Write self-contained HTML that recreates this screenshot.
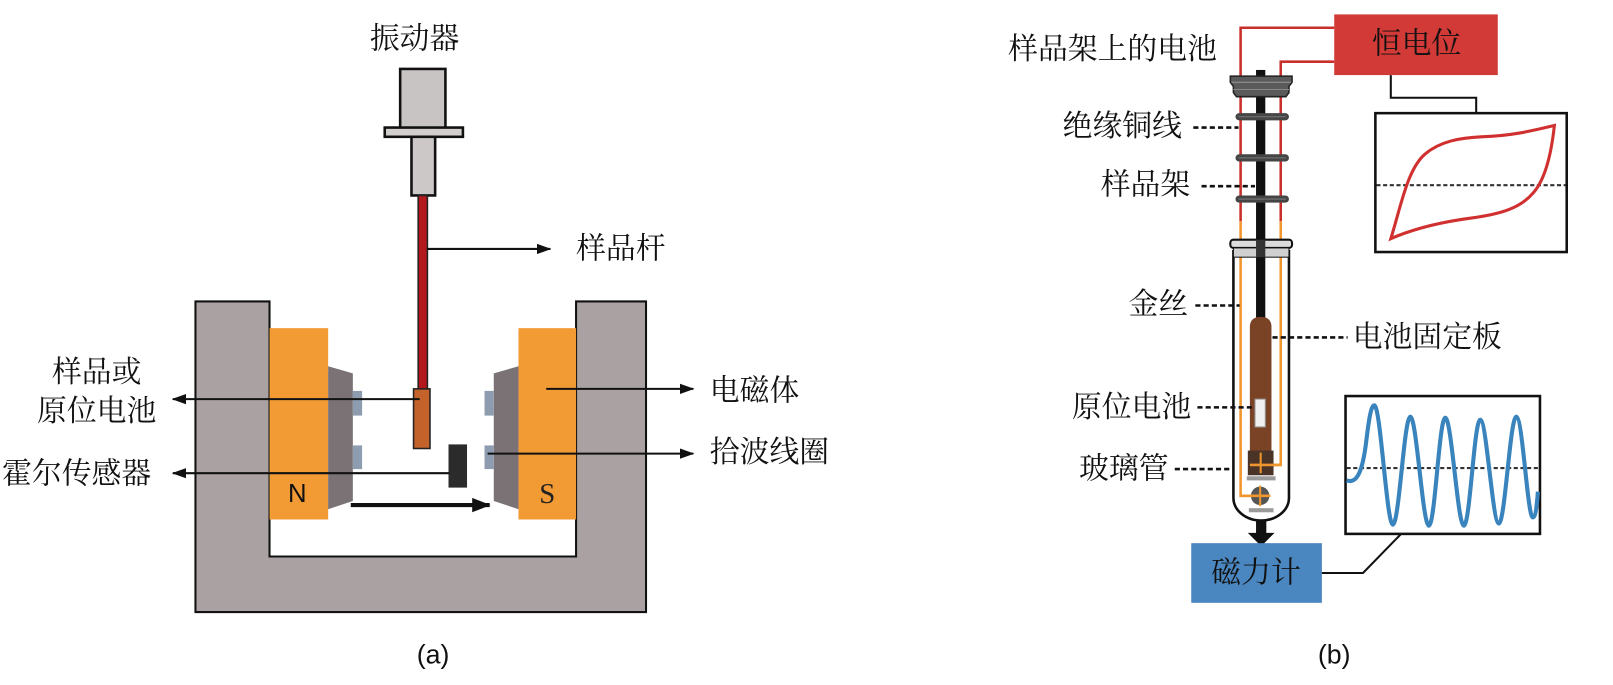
<!DOCTYPE html>
<html><head><meta charset="utf-8"><style>
html,body{margin:0;padding:0;background:#fff;}
svg{display:block;}
.cj{font-family:"Liberation Serif","Noto Serif CJK SC",serif;font-size:29px;fill:#111;}
.lt{font-family:"Liberation Sans",sans-serif;fill:#111;}
</style></head><body>
<svg width="1613" height="685" viewBox="0 0 1613 685" xmlns="http://www.w3.org/2000/svg">
<defs>
<marker id="ah" markerWidth="14" markerHeight="10" refX="13" refY="5" orient="auto" markerUnits="userSpaceOnUse">
<path d="M0,0 L14,5 L0,10 Z" fill="#111"/></marker>
<marker id="ah2" markerWidth="18" markerHeight="14" refX="17" refY="7" orient="auto" markerUnits="userSpaceOnUse">
<path d="M0,0 L18,7 L0,14 Z" fill="#111"/></marker>
</defs>
<rect width="1613" height="685" fill="#fff"/>
<g transform="scale(1.0287)">

<!-- ===== Panel (a) ===== -->
<text class="cj" x="403" y="38" text-anchor="middle" dominant-baseline="central">振动器</text>
<rect x="389" y="67" width="44" height="58" fill="#c9c4c4" stroke="#111" stroke-width="2.5"/>
<rect x="374" y="124" width="76" height="9" fill="#d2cece" stroke="#111" stroke-width="2.5"/>
<rect x="400" y="133" width="23" height="57" fill="#cdc8c8" stroke="#111" stroke-width="2.5"/>
<rect x="406.5" y="190" width="9" height="190" fill="#b3191c" stroke="#222" stroke-width="1.5"/>
<line x1="415" y1="242" x2="535" y2="242" stroke="#111" stroke-width="2" marker-end="url(#ah)"/>
<text class="cj" x="560" y="242" dominant-baseline="central">样品杆</text>

<path d="M190,293 H262 V541 H560 V293 H628 V595 H190 Z" fill="#aaa2a2" stroke="#111" stroke-width="2"/>
<rect x="262" y="319" width="57" height="186" fill="#f29a33"/>
<rect x="504" y="319" width="56" height="186" fill="#f29a33"/>
<polygon points="319,356 343,363 343,487 319,495" fill="#7a7274"/>
<polygon points="504,356 480,363 480,487 504,495" fill="#7a7274"/>
<rect x="343" y="380" width="9" height="24" fill="#8e9cb0"/>
<rect x="343" y="433" width="9" height="23" fill="#8e9cb0"/>
<rect x="471" y="380" width="9" height="24" fill="#8e9cb0"/>
<rect x="471" y="433" width="9" height="23" fill="#8e9cb0"/>
<rect x="402" y="378" width="16" height="58" fill="#c3622b" stroke="#222" stroke-width="1.5"/>
<rect x="436" y="432" width="18" height="42" fill="#2b2b2b"/>
<text class="lt" x="289" y="480" font-size="25" text-anchor="middle" dominant-baseline="central">N</text>
<text x="532" y="480" font-family="Liberation Serif, serif" font-size="28" fill="#222" text-anchor="middle" dominant-baseline="central">S</text>
<line x1="408" y1="388" x2="168" y2="388" stroke="#111" stroke-width="2" marker-end="url(#ah)"/>
<line x1="437" y1="460" x2="168" y2="460" stroke="#111" stroke-width="2" marker-end="url(#ah)"/>
<line x1="531" y1="378" x2="674" y2="378" stroke="#111" stroke-width="2" marker-end="url(#ah)"/>
<line x1="474" y1="441" x2="674" y2="441" stroke="#111" stroke-width="2" marker-end="url(#ah)"/>
<line x1="341" y1="491" x2="476" y2="491" stroke="#111" stroke-width="4" marker-end="url(#ah2)"/>
<text class="cj" x="94" y="362" text-anchor="middle" dominant-baseline="central">样品或</text>
<text class="cj" x="94" y="400" text-anchor="middle" dominant-baseline="central">原位电池</text>
<text class="cj" x="2" y="461" dominant-baseline="central">霍尔传感器</text>
<text class="cj" x="690" y="380" dominant-baseline="central">电磁体</text>
<text class="cj" x="690" y="440" dominant-baseline="central">拾波线圈</text>
<text class="lt" x="421" y="636" font-size="26" text-anchor="middle" dominant-baseline="central">(a)</text>

<!-- ===== Panel (b) ===== -->
<text class="cj" x="980" y="48" dominant-baseline="central">样品架上的电池</text>
<rect x="1297" y="14" width="159" height="59" fill="#d13a36"/>
<text class="cj" x="1377" y="43" text-anchor="middle" dominant-baseline="central" fill="#1a1a1a">恒电位</text>
<path d="M1297,27 H1206 V215" fill="none" stroke="#c9302c" stroke-width="2.5"/>
<path d="M1297,60 H1245 V215" fill="none" stroke="#c9302c" stroke-width="2.5"/>
<path d="M1199,243 V484 A27,22 0 0 0 1253,484 V243" fill="#fff" stroke="#111" stroke-width="2.5"/>
<path d="M1206,215 V482 H1225" fill="none" stroke="#f0962e" stroke-width="2.5"/>
<path d="M1245,215 V452 H1225" fill="none" stroke="#f0962e" stroke-width="2.5"/>
<rect x="1221" y="68" width="9" height="250" fill="#111"/>
<path d="M1196,74 H1256 V80 L1253,84 V90 L1250,94 H1202 L1199,90 V84 L1196,80 Z" fill="#5a5a5a" stroke="#222" stroke-width="1.5"/>
<line x1="1197" y1="80" x2="1255" y2="80" stroke="#999" stroke-width="1"/>
<line x1="1199" y1="87" x2="1253" y2="87" stroke="#888" stroke-width="1"/>
<rect x="1201" y="110" width="52" height="7" rx="3.5" fill="#454545"/>
<rect x="1201" y="150" width="52" height="7" rx="3.5" fill="#454545"/>
<rect x="1201" y="190" width="52" height="7" rx="3.5" fill="#454545"/>
<line x1="1204" y1="113.5" x2="1250" y2="113.5" stroke="#777" stroke-width="1"/>
<line x1="1204" y1="153.5" x2="1250" y2="153.5" stroke="#777" stroke-width="1"/>
<line x1="1204" y1="193.5" x2="1250" y2="193.5" stroke="#777" stroke-width="1"/>
<rect x="1196" y="233" width="60" height="8" rx="3" fill="#dcdcdc" stroke="#111" stroke-width="2"/>
<rect x="1199" y="241" width="54" height="9" fill="#d0d0d0" stroke="#111" stroke-width="1"/>
<rect x="1221" y="233" width="9" height="17" fill="#333"/>
<path d="M1215,440 V318 Q1215,308 1225.5,308 Q1236,308 1236,318 V440 Z" fill="#7b4325"/>
<rect x="1220" y="388" width="10" height="27" fill="#f0f0f0" stroke="#999" stroke-width="1"/>
<rect x="1213" y="438" width="25" height="24" fill="#4a3428"/>
<line x1="1225.5" y1="440" x2="1225.5" y2="460" stroke="#f0962e" stroke-width="2"/>
<line x1="1215" y1="452" x2="1245" y2="452" stroke="#f0962e" stroke-width="2.5"/>
<rect x="1212" y="463" width="28" height="4" fill="#9a9a9a"/>
<circle cx="1225" cy="482" r="9" fill="#555"/>
<line x1="1225" y1="472" x2="1225" y2="492" stroke="#f0962e" stroke-width="2"/>
<line x1="1206" y1="482" x2="1235" y2="482" stroke="#f0962e" stroke-width="2.5"/>
<rect x="1214" y="494" width="24" height="4" fill="#9a9a9a"/>
<g stroke="#111" stroke-width="2.5" stroke-dasharray="5,3">
<line x1="1160" y1="124" x2="1204" y2="124"/>
<line x1="1168" y1="181" x2="1220" y2="181"/>
<line x1="1162" y1="297" x2="1205" y2="297"/>
<line x1="1164" y1="396" x2="1220" y2="396"/>
<line x1="1142" y1="456" x2="1198" y2="456"/>
<line x1="1237" y1="328" x2="1310" y2="328"/>
</g>
<text class="cj" x="1149" y="123" text-anchor="end" dominant-baseline="central">绝缘铜线</text>
<text class="cj" x="1157" y="180" text-anchor="end" dominant-baseline="central">样品架</text>
<text class="cj" x="1155" y="296" text-anchor="end" dominant-baseline="central">金丝</text>
<text class="cj" x="1158" y="396" text-anchor="end" dominant-baseline="central">原位电池</text>
<text class="cj" x="1136" y="456" text-anchor="end" dominant-baseline="central">玻璃管</text>
<text class="cj" x="1315" y="328" dominant-baseline="central">电池固定板</text>
<rect x="1221" y="506" width="10" height="14" fill="#111"/>
<polygon points="1213,518 1239,518 1226,531" fill="#111"/>
<rect x="1158" y="528" width="127" height="58" fill="#4a86bf"/>
<text class="cj" x="1221" y="557" text-anchor="middle" dominant-baseline="central" fill="#1a1a1a">磁力计</text>
<path d="M1285,557 H1325 L1362,519" fill="none" stroke="#111" stroke-width="2"/>
<path d="M1352,73 V95 H1435 V110" fill="none" stroke="#111" stroke-width="2"/>
<rect x="1337" y="110" width="186" height="135" fill="#fff" stroke="#111" stroke-width="2.5"/>
<line x1="1338" y1="180" x2="1522" y2="180" stroke="#333" stroke-width="2" stroke-dasharray="4,2.5"/>
<path d="M1352,232 C1362,200 1368,165 1385,150 C1400,137 1420,134 1440,133 C1470,132 1490,127 1511,122 C1508,150 1502,175 1490,188 C1478,202 1460,208 1430,212 C1400,216 1375,222 1352,232 Z" fill="none" stroke="#d0302f" stroke-width="3"/>
<rect x="1308" y="385" width="189" height="134" fill="#fff" stroke="#111" stroke-width="2.5"/>
<line x1="1309" y1="455" x2="1496" y2="455" stroke="#333" stroke-width="2" stroke-dasharray="4,2.5"/>
<path d="M1309,467 C1318,470 1324,462 1328,430 C1331,405 1333,394 1336,394 C1342,394 1348,510 1354,510 C1360,510 1365,405 1371,405 C1377,405 1383,511 1389,511 C1395,511 1399,406 1405,406 C1411,406 1417,511 1423,511 C1429,511 1433,408 1439,408 C1445,408 1451,509 1457,509 C1463,509 1468,405 1474,405 C1480,405 1485,503 1490,503 C1493,503 1494,490 1495,478" fill="none" stroke="#3a84bd" stroke-width="4"/>
<text class="lt" x="1297" y="636" font-size="26" text-anchor="middle" dominant-baseline="central">(b)</text>
</g>
</svg>
</body></html>
